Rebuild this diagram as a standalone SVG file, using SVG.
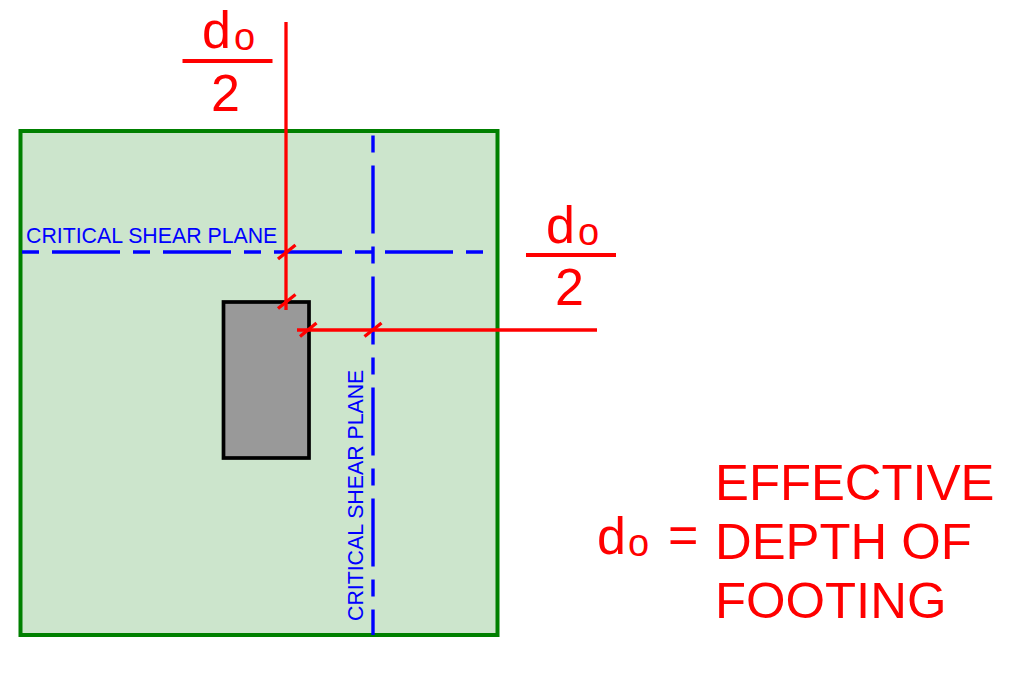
<svg xmlns="http://www.w3.org/2000/svg" width="1015" height="679" viewBox="0 0 1015 679">
<style>
text{font-family:"Liberation Sans",Arial,sans-serif}
.r{fill:#f00}
.big{font-size:52px}
.word{font-size:50.8px}
.sub{font-size:38px}
.label{fill:#00f;font-size:21.3px}
.blue{fill:none;stroke:#00f;stroke-width:3.4;stroke-dasharray:17 13 68 13}
.red{fill:none;stroke:#f00;stroke-width:3.3}
.bar{fill:none;stroke:#f00;stroke-width:4}
</style>
<rect width="1015" height="679" fill="#fff"/>
<g id="footing"><rect x="20.5" y="131" width="477" height="504" fill="#cce5cc" stroke="#008000" stroke-width="4"/></g>
<g id="column"><rect x="223.5" y="302" width="85.5" height="156" fill="#999" stroke="#000" stroke-width="3.7"/></g>
<g id="connectors">
<path class="blue" d="M22 252H485"/>
<path class="blue" d="M373 135.500V635"/>
<path class="red" d="M286 22V310M297 330H597"/>
<path class="red" d="M278 259L295.500 245M278 308.500L295.500 294.500M300 336.500L316.500 323M364.500 336.500L381.500 323"/>
<path class="bar" d="M182.500 61H272.500M526 255H616"/>
</g>
<g id="label-h"><text class="label" x="26" y="242.500">CRITICAL SHEAR PLANE</text></g>
<g id="label-v"><text class="label" transform="translate(362.500 621) rotate(-90)">CRITICAL SHEAR PLANE</text></g>
<g id="frac-top"><text class="r big" x="202" y="48">d</text><text class="r sub" x="234" y="50">o</text><text class="r big" x="211" y="111">2</text></g>
<g id="frac-right"><text class="r big" x="546" y="242.500">d</text><text class="r sub" x="578" y="244.500">o</text><text class="r big" x="555" y="305">2</text></g>
<g id="legend">
<text class="r big" x="597" y="553.500">d</text><text class="r sub" x="628" y="556">o</text><text class="r big" x="668" y="553">=</text>
<text class="r word" x="715" y="500">EFFECTIVE</text>
<text class="r word" x="715" y="559">DEPTH OF</text>
<text class="r word" x="715" y="618">FOOTING</text>
</g>
</svg>
